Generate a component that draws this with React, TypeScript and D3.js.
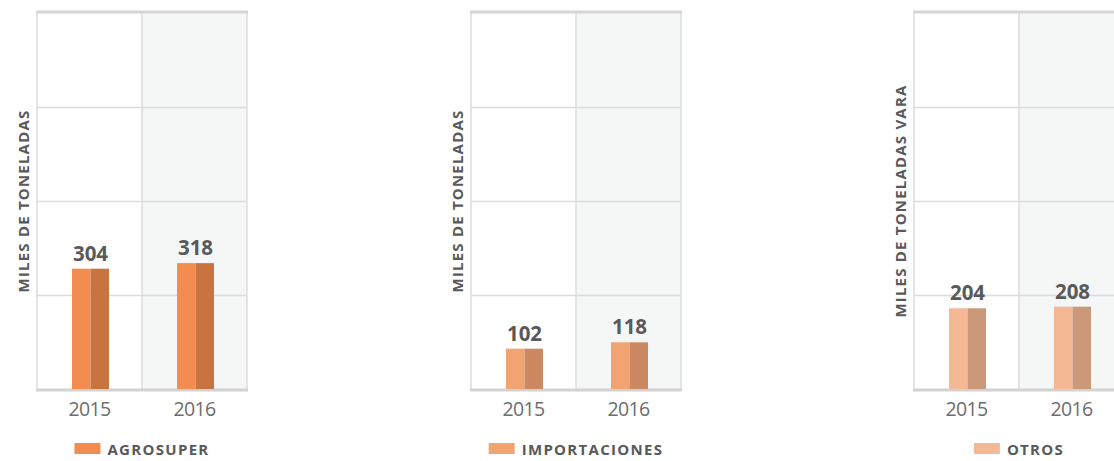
import React, { useEffect, useRef } from "react";
import * as d3 from "d3";

const years = ["2015", "2016"];
const panelNames = ["AGROSUPER", "IMPORTACIONES", "OTROS"];
const axisTitles = ["MILES DE TONELADAS", "MILES DE TONELADAS", "MILES DE TONELADAS VARA"];
const agrosuper = [304, 318];
const importaciones = [102, 118];
const otros = [204, 208];
const seriesValues = [agrosuper, importaciones, otros];
const lightColors = ["#F28C51", "#F2A372", "#F4B894"];
const darkColors = ["#C97440", "#CC8860", "#CC987A"];
const yMax = 950;
const gridCount = 4;

const W = 1114;
const H = 461;
const panelLefts = [37, 471, 914];
const panelW = 210;
const top = 13;
const bottom = 389;
const font = "'Open Sans', sans-serif";

export default function App() {
  const ref = useRef<SVGSVGElement>(null);
  useEffect(() => {
    const svg = d3.select(ref.current);
    svg.selectAll("*").remove();
    const y = d3.scaleLinear().domain([0, yMax]).range([bottom, top]);
    const gridVals = d3.range(1, gridCount).map((i) => y.invert(bottom - ((bottom - top) * i) / gridCount));

    panelNames.forEach((name, p) => {
      const left = panelLefts[p];
      const x = d3.scaleBand().domain(years).range([left, left + panelW]).padding(0);
      const g = svg.append("g");
      g.append("rect")
        .attr("x", x("2016")!)
        .attr("y", top)
        .attr("width", x.bandwidth())
        .attr("height", bottom - top)
        .attr("fill", "#F5F7F7");
      gridVals.forEach((v) => {
        g.append("line")
          .attr("x1", left).attr("x2", left + panelW)
          .attr("y1", y(v) + 0.5).attr("y2", y(v) + 0.5)
          .attr("stroke", "#DCDCDC").attr("stroke-width", 1.5);
      });
      [left, x("2016")!, left + panelW].forEach((xx) => {
        g.append("line")
          .attr("x1", xx).attr("x2", xx)
          .attr("y1", top).attr("y2", bottom)
          .attr("stroke", "#DCDCDC").attr("stroke-width", 1.5);
      });
      g.append("line")
        .attr("x1", left - 1).attr("x2", left + panelW + 1)
        .attr("y1", top - 1).attr("y2", top - 1)
        .attr("stroke", "#D6D6D6").attr("stroke-width", 3);
      g.append("line")
        .attr("x1", left - 1).attr("x2", left + panelW + 1)
        .attr("y1", bottom + 1).attr("y2", bottom + 1)
        .attr("stroke", "#D2D2D2").attr("stroke-width", 3);

      const bw = 37;
      seriesValues[p].forEach((v, i) => {
        const cx = x(years[i])! + x.bandwidth() / 2 + 1;
        const yt = y(v);
        g.append("rect")
          .attr("x", cx - bw / 2).attr("y", yt)
          .attr("width", bw / 2).attr("height", bottom - yt)
          .attr("fill", lightColors[p]);
        g.append("rect")
          .attr("x", cx).attr("y", yt)
          .attr("width", bw / 2).attr("height", bottom - yt)
          .attr("fill", darkColors[p]);
        g.append("text")
          .attr("x", cx).attr("y", yt - 8)
          .attr("text-anchor", "middle")
          .attr("font-family", font).attr("font-weight", 700)
          .attr("font-size", 20.5).attr("fill", "#58595B")
          .text(String(v));
        g.append("text")
          .attr("x", cx - 1).attr("y", 416)
          .attr("text-anchor", "middle")
          .attr("font-family", font).attr("font-weight", 400)
          .attr("font-size", 19.5).attr("letter-spacing", -0.7).attr("fill", "#6D6E70")
          .text(years[i]);
      });

      g.append("text")
        .attr("transform", `translate(${left - 8},${(top + bottom) / 2}) rotate(-90)`)
        .attr("text-anchor", "middle")
        .attr("font-family", font).attr("font-weight", 700)
        .attr("font-size", 15).attr("letter-spacing", 1.2).attr("fill", "#58595B")
        .text(axisTitles[p]);

      const lg = g.append("g");
      lg.append("rect").attr("x", 0).attr("y", 443).attr("width", 26).attr("height", 11).attr("fill", lightColors[p]);
      const lt = lg.append("text")
        .attr("x", 33).attr("y", 454.5)
        .attr("font-family", font).attr("font-weight", 700)
        .attr("font-size", 15).attr("letter-spacing", 1.3).attr("fill", "#58595B")
        .text(name);
      const tw = (lt.node() as SVGTextElement).getComputedTextLength();
      const total = 33 + tw;
      const center = x("2016")!;
      lg.attr("transform", `translate(${center - total / 2},0)`);
    });
  }, []);
  return (
    <svg
      ref={ref}
      width={W}
      height={H}
      style={{ position: "absolute", left: 0, top: 0, background: "#fff" }}
    />
  );
}
